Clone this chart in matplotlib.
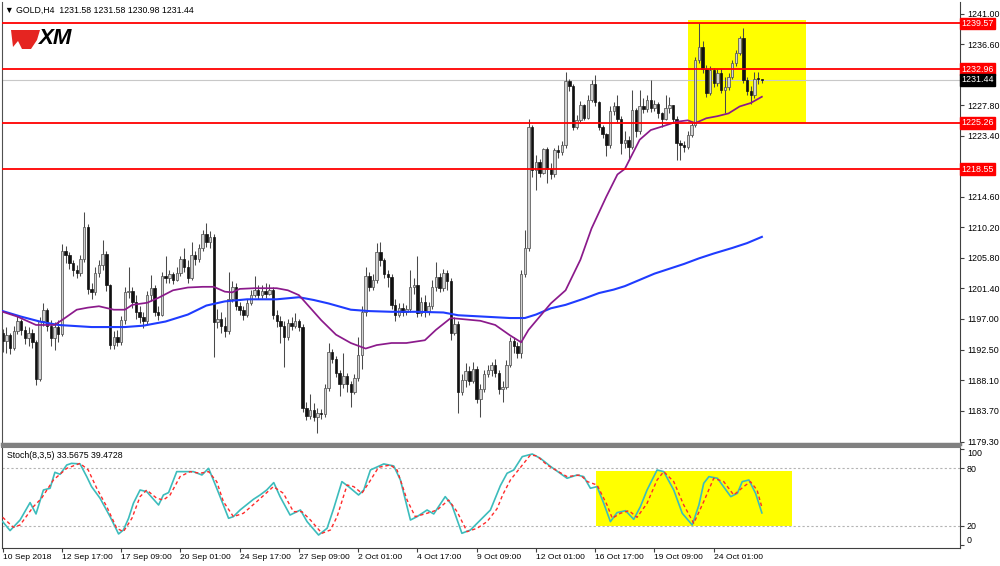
import numpy as np
import matplotlib.pyplot as plt
import matplotlib.transforms as mtransforms
from matplotlib.patches import Rectangle, Polygon

plt.rcParams['font.family'] = ['Liberation Sans', 'DejaVu Sans']

# GOLD H4, 10 Sep - 26 Oct 2018
first_open = 1195.0
closes = [1193.8, 1194.6, 1192.8, 1195.2, 1196.6, 1195.4, 1194.2, 1195.0, 1193.6, 1188.3,
          1196.6, 1198.2, 1196.0, 1194.2, 1195.8, 1194.8, 1206.8, 1206.2, 1205.0, 1204.0,
          1203.6, 1205.6, 1210.2, 1201.3, 1200.8, 1203.6, 1204.8, 1206.4, 1201.8, 1193.2,
          1194.4, 1193.6, 1196.8, 1200.8, 1201.0, 1199.4, 1198.0, 1197.2, 1196.6, 1200.4,
          1201.4, 1198.0, 1197.6, 1203.2, 1202.8, 1203.4, 1202.6, 1203.6, 1205.6, 1204.4,
          1202.8, 1206.2, 1205.6, 1207.2, 1209.2, 1208.0, 1208.8, 1196.5, 1197.0, 1196.0,
          1195.2, 1199.8, 1201.6, 1198.8, 1198.2, 1197.6, 1199.2, 1200.4, 1201.2, 1200.4,
          1201.0, 1200.6, 1201.2, 1197.6, 1196.6, 1196.0, 1194.4, 1196.4, 1196.0, 1196.6,
          1195.8, 1184.2, 1183.0, 1183.8, 1182.8, 1183.4, 1183.2, 1187.0, 1192.2, 1191.2,
          1189.2, 1187.6, 1188.8, 1187.6, 1186.4, 1188.4, 1191.8, 1198.0, 1203.2, 1201.6,
          1202.6, 1206.6, 1205.4, 1203.4, 1203.0, 1199.0, 1197.6, 1198.6, 1198.0, 1198.4,
          1201.6, 1201.8, 1197.8, 1199.4, 1198.0, 1198.8, 1201.6, 1203.0, 1201.4, 1203.6,
          1202.4, 1194.9, 1196.2, 1186.4, 1188.2, 1189.4, 1188.0, 1189.8, 1185.4, 1186.8,
          1189.0, 1189.6, 1190.4, 1189.2, 1186.8, 1187.2, 1190.4, 1193.8, 1193.0, 1192.0,
          1203.4, 1207.2, 1224.6, 1218.4, 1219.6, 1218.0, 1221.4, 1218.6, 1217.8, 1221.3,
          1221.0, 1222.0, 1231.2, 1230.6, 1224.7, 1225.6, 1227.8, 1226.0, 1228.6, 1230.8,
          1228.2, 1224.7, 1223.6, 1222.0, 1227.0, 1227.6, 1225.8, 1222.4, 1222.8, 1221.8,
          1227.1, 1224.0, 1227.6, 1227.2, 1228.6, 1227.4, 1228.0, 1226.6, 1225.8, 1227.4,
          1227.8, 1225.8, 1222.3, 1222.0, 1221.8, 1223.5, 1224.9, 1234.3, 1236.2, 1233.0,
          1229.5, 1232.8, 1231.0, 1232.4, 1230.0, 1230.4, 1231.9, 1233.8, 1235.3, 1237.4,
          1231.4, 1229.8, 1229.2, 1231.6, 1231.58, 1231.44]
highs = [1195.5, 1195.8, 1195.0, 1196.0, 1197.5, 1197.0, 1196.0, 1195.8, 1195.5, 1194.0,
         1197.3, 1199.2, 1198.6, 1196.8, 1196.5, 1196.8, 1207.8, 1207.5, 1206.6, 1205.4,
         1204.8, 1206.2, 1212.4, 1210.6, 1202.2, 1204.4, 1205.4, 1208.4, 1206.8, 1202.0,
         1195.2, 1195.4, 1197.4, 1201.6, 1204.5, 1201.6, 1200.4, 1198.8, 1198.0, 1201.0,
         1203.3, 1201.8, 1198.8, 1203.8, 1206.0, 1204.0, 1203.8, 1204.4, 1206.0, 1207.2,
         1205.4, 1208.0, 1206.8, 1207.8, 1209.8, 1210.8, 1209.6, 1209.2, 1198.4, 1198.0,
         1197.2, 1203.8, 1202.4, 1202.2, 1199.4, 1198.8, 1199.8, 1201.2, 1203.1, 1201.8,
         1201.8, 1202.2, 1202.0, 1201.6, 1198.2, 1197.4, 1196.6, 1197.0, 1197.2, 1197.8,
         1197.0, 1196.2, 1185.0, 1186.2, 1184.8, 1184.2, 1184.0, 1187.6, 1193.5, 1192.6,
         1191.6, 1189.6, 1192.0, 1189.2, 1188.0, 1189.0, 1194.4, 1198.8, 1204.5, 1203.8,
         1203.4, 1207.9, 1208.0, 1205.8, 1204.0, 1203.4, 1199.8, 1199.2, 1199.2, 1199.0,
         1204.0, 1202.8, 1206.0, 1200.2, 1200.4, 1199.4, 1202.6, 1205.2, 1203.6, 1204.2,
         1204.0, 1202.8, 1197.2, 1196.6, 1189.0, 1190.6, 1190.2, 1190.8, 1190.2, 1187.6,
         1189.6, 1190.4, 1190.8, 1191.2, 1189.6, 1188.0, 1191.0, 1194.4, 1194.4, 1193.6,
         1204.0, 1209.8, 1225.8, 1225.0, 1220.6, 1220.0, 1221.6, 1221.8, 1219.4, 1221.6,
         1222.0, 1222.6, 1232.6, 1231.6, 1230.8, 1226.4, 1228.4, 1228.0, 1229.2, 1231.4,
         1232.1, 1228.4, 1225.0, 1223.8, 1227.6, 1228.2, 1229.3, 1226.2, 1224.0, 1223.4,
         1230.0, 1227.4, 1230.0, 1228.8, 1229.2, 1231.4, 1228.6, 1228.2, 1226.8, 1229.2,
         1229.0, 1227.8, 1226.2, 1222.8, 1222.6, 1224.0, 1225.4, 1234.8, 1239.6, 1237.0,
         1233.6, 1233.4, 1233.2, 1233.0, 1233.0, 1231.9, 1232.4, 1234.3, 1235.8, 1237.8,
         1238.9, 1231.8, 1230.6, 1232.6, 1232.6, 1231.58]
lows = [1192.2, 1192.0, 1191.9, 1192.5, 1194.8, 1194.6, 1193.4, 1193.0, 1192.8, 1187.4,
        1188.0, 1196.0, 1195.2, 1193.0, 1192.5, 1193.6, 1194.5, 1205.0, 1204.2, 1203.2,
        1202.8, 1203.2, 1205.2, 1200.6, 1199.8, 1200.4, 1203.0, 1204.0, 1201.0, 1192.6,
        1192.6, 1193.0, 1193.2, 1196.2, 1200.0, 1198.6, 1197.0, 1196.4, 1195.6, 1196.2,
        1199.6, 1197.4, 1196.8, 1197.4, 1202.2, 1202.2, 1202.0, 1202.4, 1203.2, 1203.8,
        1202.2, 1202.6, 1204.8, 1205.2, 1206.8, 1207.4, 1207.2, 1191.5, 1195.6, 1195.0,
        1194.4, 1194.8, 1199.4, 1198.2, 1197.6, 1196.8, 1197.2, 1199.0, 1200.2, 1199.8,
        1200.0, 1200.0, 1200.4, 1197.0, 1195.8, 1193.5, 1190.1, 1194.0, 1195.4, 1195.6,
        1195.2, 1183.6, 1182.4, 1182.6, 1182.2, 1180.5, 1182.6, 1182.8, 1186.6, 1190.6,
        1188.6, 1185.8, 1187.0, 1186.4, 1184.3, 1186.2, 1188.0, 1189.8, 1197.4, 1201.0,
        1201.2, 1202.2, 1204.6, 1202.8, 1201.6, 1198.4, 1196.6, 1197.2, 1197.4, 1197.6,
        1198.0, 1200.6, 1197.2, 1197.4, 1197.2, 1197.6, 1198.4, 1201.0, 1200.8, 1201.0,
        1201.2, 1194.0, 1194.6, 1183.4, 1186.0, 1187.2, 1187.4, 1187.8, 1184.8, 1182.9,
        1186.4, 1188.6, 1188.8, 1188.6, 1186.2, 1185.0, 1186.8, 1190.0, 1192.0, 1191.4,
        1191.4, 1203.0, 1206.8, 1217.5, 1215.6, 1217.4, 1217.8, 1216.5, 1217.2, 1217.4,
        1220.2, 1220.6, 1221.6, 1229.8, 1224.2, 1224.4, 1225.4, 1225.6, 1225.8, 1228.2,
        1227.6, 1224.2, 1223.0, 1220.4, 1221.6, 1226.4, 1225.2, 1220.8, 1221.6, 1219.9,
        1221.4, 1223.2, 1223.6, 1226.6, 1226.8, 1226.8, 1227.0, 1226.0, 1224.7, 1225.6,
        1226.6, 1225.4, 1219.9, 1219.9, 1221.0, 1221.4, 1223.2, 1224.6, 1233.8, 1232.4,
        1229.0, 1229.2, 1230.4, 1230.6, 1229.6, 1226.6, 1230.0, 1231.6, 1233.4, 1235.0,
        1231.0, 1229.2, 1228.0, 1228.8, 1230.8, 1230.98]

# moving averages (bar index, price)
ma_fast_x = [0, 4, 9, 14, 16, 20, 23, 26, 30, 33, 35, 39, 42, 46, 50, 54, 57, 60, 62, 64,
             68, 74, 77, 80, 82, 84, 86, 90, 94, 98, 101, 105, 109, 114, 117, 121, 125, 129, 133, 137,
             140, 142, 145, 148, 152, 156, 159, 163, 166, 168, 172, 175, 178, 182, 185, 187, 190, 193, 196, 199,
             202, 205]
ma_fast_y = [1198.0, 1197.3, 1196.1, 1196.1, 1196.8, 1198.3, 1198.6, 1198.8, 1198.3, 1198.3,
             1199.0, 1199.3, 1200.0, 1201.1, 1201.5, 1201.6, 1201.6, 1200.9, 1200.8, 1201.3,
             1201.4, 1201.4, 1201.1, 1200.4, 1199.2, 1198.0, 1196.8, 1194.7, 1193.5, 1192.7,
             1193.2, 1193.5, 1193.5, 1193.9, 1195.4, 1197.1, 1196.9, 1196.7, 1196.1, 1194.6,
             1193.6, 1195.4, 1197.3, 1199.2, 1201.1, 1205.5, 1210.0, 1214.6, 1217.8, 1218.6,
             1222.8, 1224.2, 1224.7, 1225.4, 1225.6, 1225.2, 1225.9, 1226.2, 1226.6, 1227.6,
             1228.1, 1229.0]
ma_slow_x = [0, 5, 10, 15, 24, 33, 38, 44, 50, 55, 60, 66, 74, 80, 84, 88, 94, 99, 105, 112,
             119, 123, 130, 137, 141, 144, 148, 152, 157, 161, 165, 168, 172, 176, 180, 184, 188, 192, 197, 201,
             205]
ma_slow_y = [1198.1, 1197.3, 1196.6, 1196.1, 1195.8, 1195.8, 1196.0, 1196.6, 1197.6, 1198.9,
             1199.5, 1199.8, 1199.8, 1200.1, 1199.7, 1199.2, 1198.3, 1198.1, 1198.0, 1198.0,
             1197.9, 1197.5, 1197.3, 1197.1, 1197.1, 1197.6, 1198.5, 1199.0, 1199.9, 1200.7,
             1201.2, 1201.7, 1202.6, 1203.5, 1204.2, 1204.9, 1205.7, 1206.4, 1207.2, 1207.9,
             1208.8]

# Stochastic(8,3,5)
stoch_main_x = [0, 2, 4.7, 7.4, 9, 11, 12.8, 14.1, 15.5, 17.3, 18.6, 20.9, 22.7, 24, 26.3, 29, 31.3, 32.6, 34, 35.3,
                37.1, 38.9, 42.1, 43.4, 44.8, 47, 48.8, 51.5, 53.8, 55.6, 56.9, 58.7, 61, 62.3, 64.1, 67.7, 69.5, 71.3, 73.2, 74.9,
                77.6, 80.4, 82.2, 85.3, 87.6, 89.4, 91.6, 93.4, 96.1, 97.5, 99.3, 102.9, 105.6, 107.4, 110.1, 111.9, 114.6, 116.4, 119.5, 121.3,
                124, 126.3, 129, 131.7, 134.4, 136.2, 138, 140.3, 143, 145.2, 148, 152.4, 155.1, 156.9, 158.7, 160.5, 162.3, 164.1, 165.9, 168.2,
                170.4, 172.2, 174, 176.7, 178.5, 181.2, 183.5, 186.2, 188, 189.3, 190.7, 193, 196.6, 198.4, 199.7, 201.5, 203.3, 205]
stoch_main = [24.5, 15.2, 26.2, 44.3, 32.5, 57.4, 59.2, 75.8, 73.7, 83.4, 85.1, 84.5, 71.3, 60.9, 48.8, 29.7, 11.7, 15.8, 28.0, 43.6,
              57.4, 55.7, 41.8, 52.2, 54.7, 76.5, 76.5, 76.5, 73.0, 79.9, 67.8, 50.5, 28.0, 29.7, 36.6, 47.7, 52.2, 57.4, 65.1, 50.5,
              31.4, 36.6, 24.5, 10.6, 17.6, 38.4, 66.1, 60.9, 52.2, 57.4, 78.2, 84.5, 82.4, 67.8, 26.2, 29.7, 36.6, 32.5, 50.5, 41.8,
              12.4, 15.8, 26.2, 36.6, 62.0, 74.8, 78.2, 92.1, 94.8, 90.3, 81.7, 69.6, 73.0, 71.3, 59.2, 60.9, 43.6, 24.5, 33.9, 35.9,
              26.9, 40.1, 57.4, 78.2, 76.5, 57.4, 33.2, 21.0, 41.8, 64.4, 71.3, 69.6, 50.5, 54.0, 66.1, 67.8, 54.0, 33.57]
stoch_sig_x = [0, 2.9, 4.7, 8.3, 10.5, 13.7, 17.3, 20.9, 23.1, 25.4, 28.1, 30.8, 32.6, 34.9, 37.1, 38.9, 41.6, 43.4, 45.2, 47.9,
               50.6, 53.3, 55.6, 57.8, 59.6, 62.3, 65, 68.6, 73.1, 75.8, 78.5, 80.8, 83.1, 86.2, 88.5, 90.3, 93, 94.8, 97, 98.8,
               101.5, 104.7, 106.5, 109.2, 111.4, 114.6, 117.3, 120.4, 122.7, 125.4, 128.1, 130.8, 133.5, 135.0, 137.1, 138.9, 142.5, 144.3, 147, 152.4,
               156, 157.9, 160.5, 163.2, 164.6, 166.8, 169.1, 171.3, 174, 176.7, 178.5, 181.2, 183.9, 186.6, 189.3, 192, 194.7, 197.4, 200.1, 201.9,
               203.7, 205]
stoch_sig = [29.0, 18.6, 21.0, 40.1, 48.8, 67.8, 79.9, 85.1, 78.2, 59.2, 40.1, 17.6, 14.1, 28.0, 50.5, 57.4, 48.8, 47.0, 52.2, 71.3,
             76.5, 74.8, 76.5, 66.1, 45.3, 29.7, 33.2, 45.3, 60.9, 54.0, 34.9, 34.9, 26.2, 12.4, 15.8, 29.7, 62.6, 60.9, 54.0, 64.4,
             81.0, 83.4, 78.2, 47.0, 29.7, 33.2, 36.6, 47.0, 34.9, 14.1, 17.6, 24.5, 38.0, 52.2, 67.8, 76.5, 93.8, 92.8, 83.4, 71.3,
             73.0, 66.1, 62.6, 41.8, 28.0, 33.2, 35.9, 29.0, 43.6, 67.8, 76.5, 66.1, 41.8, 22.8, 45.3, 69.6, 66.1, 52.2, 60.9, 66.1,
             57.4, 39.47]

levels = [1239.57, 1232.96, 1225.26, 1218.55]
last_price = 1231.44
price_ticks = [1179.30, 1183.70, 1188.10, 1192.50, 1197.00, 1201.40, 1205.80, 1210.20,
               1214.60, 1219.00, 1223.40, 1227.80, 1232.20, 1236.60, 1241.00]
hidden_ticks = [1219.00, 1232.20]   # covered by the level boxes on the scale
date_ticks = [0, 16, 32, 48, 64, 80, 96, 112, 128, 144, 160, 176, 192]
date_labels = ['10 Sep 2018', '12 Sep 17:00', '17 Sep 09:00', '20 Sep 01:00', '24 Sep 17:00',
               '27 Sep 09:00', '2 Oct 01:00', '4 Oct 17:00', '9 Oct 09:00', '12 Oct 01:00',
               '16 Oct 17:00', '19 Oct 09:00', '24 Oct 01:00']

opens = np.array([first_open] + closes[:-1])
closes = np.array(closes)
highs = np.maximum(np.array(highs), np.maximum(opens, closes))
lows = np.minimum(np.array(lows), np.minimum(opens, closes))
idx = np.arange(len(closes))

# figure in pixel coordinates (1000 x 566)
fig = plt.figure(figsize=(10, 5.66), dpi=100)
fx = lambda px: px / 1000
fy = lambda py: 1 - py / 566

ax = fig.add_axes([fx(2.3), fy(444), fx(960) - fx(2.3), fy(2) - fy(444)])
ax2 = fig.add_axes([fx(2.3), fy(548), fx(960) - fx(2.3), fy(447) - fy(548)])
xmin, xmax = -0.1, 258.5
fs = 6.4

# ---------------- price panel ----------------
ax.add_patch(Rectangle((185.1, 1225.26), 216.9 - 185.1, 1240.1 - 1225.26,
                       facecolor='#ffff00', edgecolor='none', zorder=0.5))
ax.axhline(last_price, color='#c8c8c8', lw=0.8, zorder=1)

bull = closes >= opens
body_lo = np.minimum(opens, closes)
body_h = np.maximum(np.abs(closes - opens), 0.12)
ax.vlines(idx, lows, highs, color='#4a4a4a', lw=0.75, zorder=2)
ax.bar(idx[bull], body_h[bull], bottom=body_lo[bull], width=0.66,
       facecolor='#d2d2d2', edgecolor='#555555', linewidth=0.55, zorder=2.1)
ax.bar(idx[~bull], body_h[~bull], bottom=body_lo[~bull], width=0.66,
       facecolor='#111111', edgecolor='#111111', linewidth=0.5, zorder=2.1)

ax.plot(ma_slow_x, ma_slow_y, color='#1f3cff', lw=1.5, zorder=3)
ax.plot(ma_fast_x, ma_fast_y, color='#8b1a8b', lw=1.25, zorder=3)
for lvl in levels:
    ax.axhline(lvl, color='#ff0000', lw=1.3, zorder=4)

ax.set_xlim(xmin, xmax)
ax.set_ylim(1178.94, 1242.66)
ax.set_xticks([])
ax.yaxis.tick_right()
ax.set_yticks(price_ticks)
ax.set_yticklabels(['' if t in hidden_ticks else '%.2f' % t for t in price_ticks])
ax.tick_params(axis='y', direction='out', length=3, pad=2, labelsize=fs, color='#404040')
ax.spines['top'].set_visible(False)
ax.spines['left'].set_color('#505050')
ax.spines['right'].set_color('#404040')
ax.spines['bottom'].set_color('#808080')
ax.spines['bottom'].set_linewidth(2.5)

blend = mtransforms.blended_transform_factory(ax.transAxes, ax.transData)
for lvl in levels:
    ax.text(1.0012, lvl, '%.2f' % lvl, transform=blend, color='white', fontsize=fs,
            va='center', ha='left', clip_on=False, zorder=6,
            bbox=dict(boxstyle='square,pad=0.15', facecolor='#ff0000', edgecolor='#ff0000'))
ax.text(1.0012, last_price, '%.2f' % last_price, transform=blend, color='white', fontsize=fs,
        va='center', ha='left', clip_on=False, zorder=6,
        bbox=dict(boxstyle='square,pad=0.15', facecolor='black', edgecolor='black'))

# ---------------- stochastic panel ----------------
ax2.add_patch(Rectangle((160.2, 20), 213.1 - 160.2, 77.2 - 20,
                        facecolor='#ffff00', edgecolor='none', zorder=0.5))
for lv in [20, 80]:
    ax2.axhline(lv, color='#b4b4b4', lw=0.8, ls=(0, (2, 2)), zorder=1)
ax2.plot(stoch_main_x, stoch_main, color='#3cbcbc', lw=1.2, zorder=3)
ax2.plot(stoch_sig_x, stoch_sig, color='#ff2a2a', lw=1.0, ls=(0, (2.5, 2)), zorder=3)

ax2.set_xlim(xmin, xmax)
ax2.set_ylim(-2.9, 102.1)
ax2.yaxis.tick_right()
ax2.set_yticks([100, 80, 20, 0])
ax2.set_yticklabels(['100', '80', '20', '0'])
ax2.tick_params(axis='y', direction='out', length=3, pad=2, labelsize=fs, color='#404040')
ylbls = ax2.get_yticklabels()
ylbls[0].set_verticalalignment('top')
ylbls[3].set_verticalalignment('bottom')
ax2.set_xticks(date_ticks)
ax2.set_xticklabels(date_labels)
ax2.tick_params(axis='x', direction='out', length=3, pad=1.5, labelsize=6.1, color='#404040')
for lbl in ax2.get_xticklabels():
    lbl.set_horizontalalignment('left')
for s in ['left', 'right', 'bottom']:
    ax2.spines[s].set_color('#404040')
ax2.spines['top'].set_color('#808080')
ax2.spines['top'].set_linewidth(1.5)

# ---------------- header texts and logo ----------------
fig.text(fx(5), fy(10), '\u25bc GOLD,H4  1231.58 1231.58 1230.98 1231.44',
         fontsize=6.3, va='center', ha='left')
fig.text(fx(7), fy(456), 'Stoch(8,3,5) 33.5675 39.4728', fontsize=6.3, va='center', ha='left')

logo = Polygon([(fx(11), fy(30)), (fx(40), fy(30)), (fx(37), fy(40)), (fx(31), fy(49)),
                (fx(22), fy(49)), (fx(18), fy(41)), (fx(13), fy(47))],
               closed=True, transform=fig.transFigure, facecolor='#e52521', edgecolor='none')
fig.patches.append(logo)
fig.text(fx(38), fy(39), 'XM', fontsize=16, fontweight='bold', fontstyle='italic',
         va='center', ha='left', color='black')

plt.savefig('out.png', dpi=100)
